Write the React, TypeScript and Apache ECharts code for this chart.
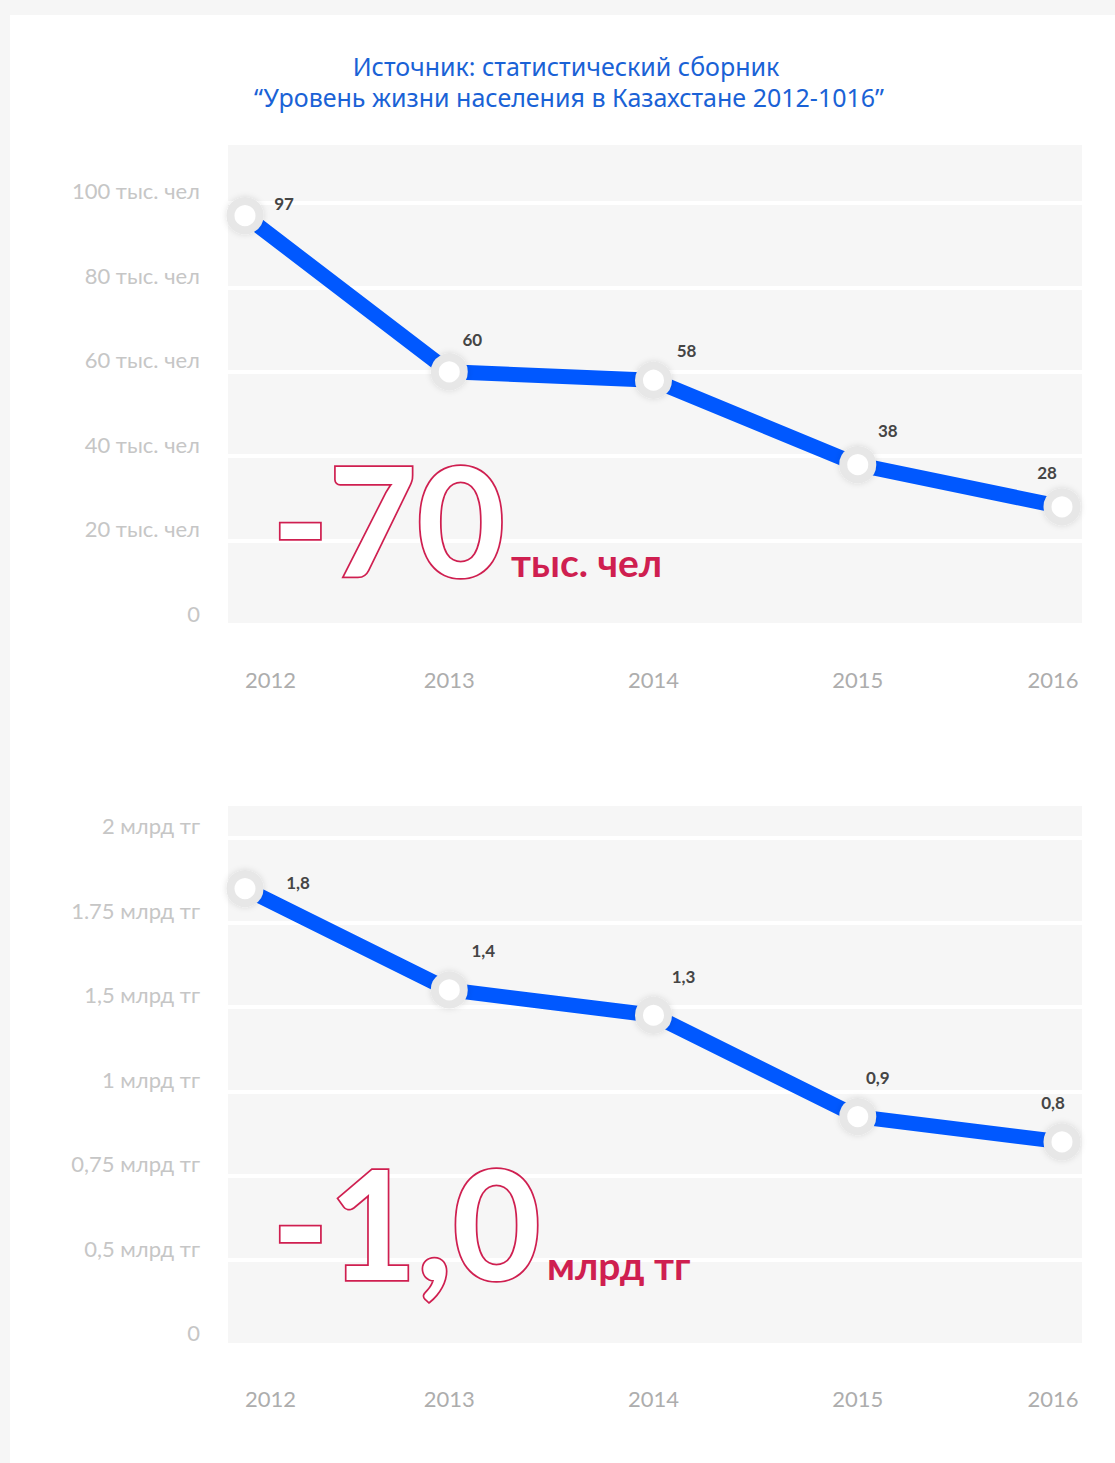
import React, { useEffect, useRef } from "react";
import * as echarts from "echarts";

const years = ["2012", "2013", "2014", "2015", "2016"];
const peopleValues = [97, 60, 58, 38, 28];
const moneyValues = [1.8, 1.4, 1.3, 0.9, 0.8];
const peopleTickLabels = ["0", "20 тыс. чел", "40 тыс. чел", "60 тыс. чел", "80 тыс. чел", "100 тыс. чел"];
const moneyTickLabels = ["0", "0,5 млрд тг", "0,75 млрд тг", "1 млрд тг", "1,5 млрд тг", "1.75 млрд тг", "2 млрд тг"];
const titleLines = ["Источник: статистический сборник", "“Уровень жизни населения в Казахстане 2012-1016”"];
const peopleBig = "-70";
const peopleUnit = "тыс. чел";
const moneyBig = "-1,0";
const moneyUnit = "млрд тг";

// label placement (styling)
const peopleLabelOffsets = [[39, -12], [23, -32], [33, -30], [30, -34], [-15, -34]];
const moneyLabelOffsets = [[53, -6], [34, -39], [30, -39], [20, -39], [-9, -39]];

const BLUE = "#0058ff";
const CRIMSON = "#cf1f50";
const FONT = "Lato";

export default function App() {
  const ref = useRef<HTMLDivElement>(null);

  useEffect(() => {
    if (!ref.current) return;
    const chart = echarts.init(ref.current, null, { renderer: "svg" });

    const bgGrid = (top: number, height: number) => ({
      left: 228,
      top,
      width: 854,
      height,
      show: true,
      backgroundColor: "#f6f6f6",
      borderWidth: 0,
    });
    const dataGrid = (top: number, height: number) => ({
      left: 245,
      top,
      width: 817,
      height,
    });

    const hiddenX = (gridIndex: number) => ({
      gridIndex,
      type: "category",
      data: years,
      show: false,
    });
    const labelX = (gridIndex: number) => ({
      gridIndex,
      type: "category",
      data: years,
      boundaryGap: false,
      axisLine: { show: false },
      axisTick: { show: false },
      splitLine: { show: false },
      axisLabel: {
        interval: 0,
        margin: 43,
        color: "#adadad",
        fontSize: 22,
        fontFamily: FONT,
        alignMinLabel: "left",
        formatter: (v: string, i: number) => (i === years.length - 1 ? `{last|${v}}` : v),
        rich: {
          last: { padding: [0, 18, 0, 0], color: "#adadad", fontSize: 22, fontFamily: FONT },
        },
      },
    });

    const bgY = (gridIndex: number, max: number, interval: number, labels: string[], scale: number) => ({
      gridIndex,
      type: "value",
      min: 0,
      max,
      interval,
      axisLine: { show: false },
      axisTick: { show: false },
      splitLine: {
        show: true,
        showMaxLine: false,
        lineStyle: { color: "#ffffff", width: 4 },
      },
      axisLabel: {
        margin: 28,
        color: "#c6c6c6",
        fontSize: 22,
        fontFamily: FONT,
        verticalAlign: "bottom",
        lineHeight: 24,
        formatter: (v: number) => {
          const idx = Math.round(v * scale);
          if (Math.abs(v * scale - idx) > 1e-6) return "";
          return labels[idx] ?? "";
        },
      },
    });
    const hiddenY = (gridIndex: number, max: number) => ({
      gridIndex,
      type: "value",
      min: 0,
      max,
      show: false,
      splitLine: { show: false },
    });

    const peopleMax = 113.74;
    const moneyMax = 2.126;

    const lineSeries = (idx: number, values: number[], offsets: number[][], fmt: (v: number) => string) => ({
      type: "line",
      xAxisIndex: idx,
      yAxisIndex: idx,
      data: values.map((v, i) => ({ value: v, label: { offset: offsets[i] } })),
      symbol: "circle",
      symbolSize: 29,
      lineStyle: { color: BLUE, width: 15 },
      itemStyle: {
        color: "#ffffff",
        borderColor: "#e7e7e7",
        borderWidth: 8,
        shadowBlur: 6,
        shadowColor: "rgba(0,0,0,0.12)",
      },
      label: {
        show: true,
        position: "inside",
        color: "#454545",
        fontSize: 17,
        fontWeight: "bold",
        fontFamily: FONT,
        formatter: (p: any) => fmt(p.value),
      },
      z: 3,
    });

    const bigStyle = (text: string) => ({
      text,
      verticalAlign: "middle",
      fontSize: 152,
      fontWeight: "bold",
      fontFamily: FONT,
      fill: "#ffffff",
      stroke: CRIMSON,
      lineWidth: 3.5,
    });
    const unitStyle = (text: string) => ({
      text,
      verticalAlign: "middle",
      fontSize: 39,
      fontWeight: "bold",
      fontFamily: FONT,
      fill: CRIMSON,
    });
    const titleStyle = (text: string) => ({
      text,
      align: "center",
      verticalAlign: "middle",
      fontSize: 25,
      fontFamily: "Noto Sans",
      fill: "#1a62d6",
    });

    chart.setOption({
      animation: false,
      grid: [bgGrid(145, 480), dataGrid(145, 480), bgGrid(806, 538.6), dataGrid(806, 538.6)],
      xAxis: [hiddenX(0), labelX(1), hiddenX(2), labelX(3)],
      yAxis: [
        bgY(0, peopleMax, 20, peopleTickLabels, 1 / 20),
        hiddenY(1, peopleMax),
        bgY(2, moneyMax, 1 / 3, moneyTickLabels, 3),
        hiddenY(3, moneyMax),
      ],
      series: [
        lineSeries(1, peopleValues, peopleLabelOffsets, (v) => String(v)),
        lineSeries(3, moneyValues, moneyLabelOffsets, (v) => String(v).replace(".", ",")),
      ],
      graphic: [
        { type: "text", x: 566, y: 66, style: titleStyle(titleLines[0]) },
        { type: "text", x: 569, y: 97, style: titleStyle(titleLines[1]) },
        { type: "text", x: 272, y: 518, z: 5, style: bigStyle(peopleBig) },
        { type: "text", x: 511, y: 562, z: 5, style: unitStyle(peopleUnit) },
        { type: "text", x: 272, y: 1221, z: 5, style: bigStyle(moneyBig) },
        { type: "text", x: 547, y: 1265, z: 5, style: unitStyle(moneyUnit) },
      ],
    });

    return () => chart.dispose();
  }, []);

  return (
    <div style={{ position: "fixed", left: 0, top: 0, width: 1115, height: 1463, background: "#f6f6f6" }}>
      <div style={{ position: "absolute", left: 10, top: 15, right: 0, bottom: 0, background: "#ffffff" }} />
      <div ref={ref} style={{ position: "absolute", left: 0, top: 0, width: 1115, height: 1463 }} />
    </div>
  );
}
